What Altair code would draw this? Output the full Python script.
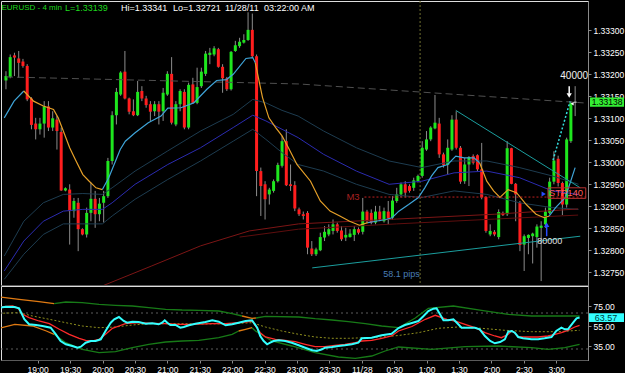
import altair as alt
import numpy as np
import pandas as pd

# ---------------- EURUSD 4-min bars ----------------
bar_open = [1.33186, 1.33194, 1.33243, 1.33236, 1.33229, 1.33219, 1.33145, 1.33088, 1.33075, 1.33088,
            1.33127, 1.33079, 1.33097, 1.33069, 1.32936, 1.32938, 1.32889, 1.32908, 1.32848, 1.32836,
            1.32885, 1.32917, 1.32882, 1.32908, 1.32923, 1.33003, 1.33107, 1.33154, 1.33206, 1.33145,
            1.33116, 1.33107, 1.33162, 1.33145, 1.33132, 1.33116, 1.33132, 1.33116, 1.33154, 1.33201,
            1.33086, 1.33132, 1.33160, 1.33079, 1.33177, 1.33135, 1.33173, 1.33201, 1.33244, 1.33245,
            1.33257, 1.33217, 1.33191, 1.33166, 1.33253, 1.33264, 1.33272, 1.33278, 1.33301, 1.33241,
            1.32980, 1.32950, 1.32927, 1.32935, 1.32957, 1.32992, 1.33048, 1.32950, 1.32948, 1.32893,
            1.32882, 1.32885, 1.32804, 1.32791, 1.32800, 1.32829, 1.32836, 1.32844, 1.32859, 1.32845,
            1.32829, 1.32830, 1.32835, 1.32848, 1.32842, 1.32888, 1.32885, 1.32863, 1.32888, 1.32866,
            1.32888, 1.32874, 1.32912, 1.32927, 1.32950, 1.32946, 1.32942, 1.32957, 1.32969, 1.33029,
            1.33052, 1.33077, 1.33088, 1.33018, 1.32994, 1.33029, 1.33097, 1.33033, 1.32957, 1.32995,
            1.33014, 1.33016, 1.32984, 1.32921, 1.32836, 1.32842, 1.32830, 1.32885, 1.32882, 1.33032,
            1.32951, 1.32908, 1.32813, 1.32828, 1.32832, 1.32830, 1.32851, 1.32859, 1.32885, 1.32956,
            1.33008, 1.32953, 1.32904, 1.33048, 1.33135]
bar_high = [1.33207, 1.33245, 1.33249, 1.33253, 1.33235, 1.33223, 1.33148, 1.33101, 1.33101, 1.33139,
            1.33139, 1.33116, 1.33105, 1.33079, 1.32943, 1.32950, 1.32919, 1.32919, 1.32850, 1.32897,
            1.32954, 1.32935, 1.32919, 1.32935, 1.33010, 1.33116, 1.33169, 1.33207, 1.33253, 1.33147,
            1.33143, 1.33185, 1.33173, 1.33151, 1.33139, 1.33139, 1.33139, 1.33169, 1.33207, 1.33239,
            1.33139, 1.33166, 1.33166, 1.33181, 1.33192, 1.33215, 1.33215, 1.33253, 1.33260, 1.33264,
            1.33260, 1.33223, 1.33194, 1.33253, 1.33276, 1.33283, 1.33291, 1.33341, 1.33338, 1.33245,
            1.32988, 1.32957, 1.32942, 1.32961, 1.32999, 1.33060, 1.33075, 1.32995, 1.32957, 1.32897,
            1.32888, 1.32889, 1.32821, 1.32806, 1.32840, 1.32855, 1.32859, 1.32870, 1.32863, 1.32855,
            1.32851, 1.32848, 1.32855, 1.32852, 1.32919, 1.32892, 1.32893, 1.32901, 1.32901, 1.32897,
            1.32912, 1.32923, 1.32942, 1.32954, 1.32957, 1.32950, 1.32965, 1.32972, 1.33048, 1.33071,
            1.33082, 1.33153, 1.33101, 1.33022, 1.33052, 1.33107, 1.33116, 1.33037, 1.33010, 1.33014,
            1.33018, 1.33018, 1.33044, 1.32923, 1.32859, 1.32846, 1.32893, 1.32888, 1.33048, 1.33033,
            1.32953, 1.32912, 1.32836, 1.32836, 1.32840, 1.32859, 1.32866, 1.32897, 1.32965, 1.33025,
            1.33015, 1.32956, 1.33056, 1.33139, 1.33173]
bar_low = [1.33166, 1.33191, 1.33196, 1.33192, 1.33215, 1.33139, 1.33075, 1.33052, 1.33063, 1.33056,
           1.33071, 1.33071, 1.33029, 1.32935, 1.32934, 1.32813, 1.32874, 1.32798, 1.32834, 1.32829,
           1.32866, 1.32851, 1.32866, 1.32863, 1.32919, 1.32995, 1.33086, 1.33151, 1.33143, 1.33109,
           1.33105, 1.33105, 1.33139, 1.33124, 1.33094, 1.33105, 1.33086, 1.33094, 1.33151, 1.33086,
           1.33082, 1.33116, 1.33075, 1.33075, 1.33133, 1.33132, 1.33169, 1.33196, 1.33223, 1.33241,
           1.33215, 1.33158, 1.33162, 1.33163, 1.33251, 1.33260, 1.33270, 1.33276, 1.33238, 1.32923,
           1.32878, 1.32870, 1.32904, 1.32931, 1.32954, 1.32988, 1.32946, 1.32935, 1.32889, 1.32878,
           1.32870, 1.32791, 1.32787, 1.32787, 1.32798, 1.32821, 1.32832, 1.32836, 1.32840, 1.32821,
           1.32821, 1.32829, 1.32821, 1.32836, 1.32836, 1.32862, 1.32859, 1.32859, 1.32866, 1.32863,
           1.32859, 1.32870, 1.32908, 1.32920, 1.32920, 1.32931, 1.32935, 1.32954, 1.32965, 1.33026,
           1.33048, 1.33075, 1.33010, 1.32988, 1.32973, 1.33026, 1.33029, 1.32951, 1.32951, 1.32946,
           1.32995, 1.32980, 1.32916, 1.32840, 1.32832, 1.32832, 1.32825, 1.32878, 1.32878, 1.32950,
           1.32866, 1.32798, 1.32753, 1.32791, 1.32770, 1.32806, 1.32730, 1.32851, 1.32882, 1.32950,
           1.32945, 1.32880, 1.32897, 1.33044, 1.33105]
bar_close = [1.33196, 1.33239, 1.33238, 1.33226, 1.33219, 1.33143, 1.33085, 1.33075, 1.33088, 1.33127,
             1.33079, 1.33100, 1.33071, 1.32936, 1.32941, 1.32889, 1.32912, 1.32848, 1.32836, 1.32885,
             1.32917, 1.32882, 1.32906, 1.32923, 1.33003, 1.33107, 1.33160, 1.33204, 1.33145, 1.33115,
             1.33107, 1.33160, 1.33145, 1.33130, 1.33115, 1.33132, 1.33115, 1.33158, 1.33201, 1.33090,
             1.33132, 1.33162, 1.33079, 1.33176, 1.33135, 1.33171, 1.33206, 1.33247, 1.33249, 1.33259,
             1.33217, 1.33191, 1.33166, 1.33251, 1.33266, 1.33274, 1.33278, 1.33301, 1.33241, 1.32980,
             1.32946, 1.32916, 1.32938, 1.32957, 1.32994, 1.33048, 1.32948, 1.32946, 1.32895, 1.32882,
             1.32878, 1.32806, 1.32791, 1.32802, 1.32830, 1.32842, 1.32848, 1.32859, 1.32844, 1.32825,
             1.32835, 1.32838, 1.32848, 1.32840, 1.32888, 1.32866, 1.32863, 1.32888, 1.32870, 1.32889,
             1.32873, 1.32913, 1.32927, 1.32950, 1.32931, 1.32935, 1.32959, 1.32969, 1.33033, 1.33052,
             1.33079, 1.33090, 1.33018, 1.32994, 1.33033, 1.33097, 1.33033, 1.32956, 1.32995, 1.33012,
             1.32999, 1.32984, 1.32920, 1.32844, 1.32844, 1.32836, 1.32887, 1.32880, 1.33032, 1.32951,
             1.32927, 1.32812, 1.32832, 1.32835, 1.32838, 1.32854, 1.32856, 1.32888, 1.32956, 1.33004,
             1.32953, 1.32904, 1.33052, 1.33135, 1.33138]

# ---------------- indicator lines, (bar number, value) ----------------
fast_ma = [
    ("#3fa4d8", [(0.6, 1.33101), (2.9, 1.33139), (5.2, 1.33162)]),
    ("#e6a028", [(5.2, 1.33162), (7.5, 1.33139), (9.8, 1.33128), (12.2, 1.33120), (13.3, 1.33101),
                 (14.5, 1.33071), (16, 1.33033), (17.5, 1.33003), (19.1, 1.32972), (20.6, 1.32957),
                 (22.2, 1.32942), (23.7, 1.32938)]),
    ("#3fa4d8", [(23.7, 1.32938), (25.2, 1.32965), (26.8, 1.33003), (27.9, 1.33029), (29.1, 1.33048),
                 (31.4, 1.33067), (34.5, 1.33090), (37.5, 1.33105), (39.1, 1.33123), (42.2, 1.33124),
                 (45.2, 1.33135), (48.3, 1.33166), (50.6, 1.33186), (52.9, 1.33188), (54.5, 1.33200),
                 (57.5, 1.33236), (59.1, 1.33238), (59.7, 1.33226)]),
    ("#e6a028", [(59.7, 1.33226), (61.4, 1.33147), (62.9, 1.33101), (64.5, 1.33079), (66, 1.33060),
                 (67.5, 1.33033), (69.5, 1.32995), (72.7, 1.32957), (75, 1.32912), (77.3, 1.32889),
                 (79.6, 1.32878), (81.9, 1.32866), (84.2, 1.32857), (86.2, 1.32863)]),
    ("#3fa4d8", [(86.2, 1.32863), (88.1, 1.32866), (90.4, 1.32870), (91.9, 1.32874), (93.5, 1.32889),
                 (95.8, 1.32904), (98.1, 1.32920), (99.6, 1.32942), (101.2, 1.32969), (102.7, 1.32988),
                 (105, 1.32995), (106.9, 1.33014), (108.9, 1.33010), (111.2, 1.33010), (112.5, 1.32999)]),
    ("#e6a028", [(112.5, 1.32999), (114.2, 1.32957), (115.8, 1.32935), (117.3, 1.32920), (119.2, 1.32938),
                 (121.2, 1.32931), (123.5, 1.32904), (125.8, 1.32882), (127.7, 1.32874), (128.9, 1.32878)]),
    ("#3fa4d8", [(128.9, 1.32878), (130.4, 1.32897), (132.7, 1.32920), (135, 1.32988)]),
]
band_upper = [(0.6, 1.32787), (5.2, 1.32866), (9.8, 1.32908), (14.5, 1.32927), (19.1, 1.32929),
              (23.7, 1.32927), (26, 1.32942), (31.4, 1.32980), (39.1, 1.33026), (46.8, 1.33071),
              (54.5, 1.33109), (59.1, 1.33143), (62.2, 1.33135), (66, 1.33118), (69.8, 1.33105),
              (75.8, 1.33071), (83.5, 1.33033), (91.2, 1.33003), (98.9, 1.32988), (106.5, 1.33003),
              (114.2, 1.33003), (121.9, 1.32988), (129.6, 1.32969), (135.8, 1.32950)]
band_mid = [(0.6, 1.32753), (5.2, 1.32821), (9.8, 1.32866), (14.5, 1.32889), (19.1, 1.32893),
            (23.7, 1.32893), (26, 1.32908), (31.4, 1.32950), (39.1, 1.32995), (46.8, 1.33033),
            (54.5, 1.33079), (59.1, 1.33107), (62.2, 1.33094), (66, 1.33075), (69.8, 1.33056),
            (75.8, 1.33018), (83.5, 1.32980), (91.2, 1.32950), (98.9, 1.32957), (106.5, 1.32976),
            (114.2, 1.32980), (121.9, 1.32965), (129.6, 1.32935), (135.8, 1.32927)]
band_lower = [(0.6, 1.32734), (5.2, 1.32791), (9.8, 1.32836), (14.5, 1.32860), (23.7, 1.32860),
              (26, 1.32878), (31.4, 1.32916), (39.1, 1.32961), (46.8, 1.33003), (54.5, 1.33048),
              (59.1, 1.33075), (62.2, 1.33052), (66, 1.33022), (69.8, 1.32995), (75.8, 1.32980),
              (83.5, 1.32950), (91.2, 1.32927), (98.9, 1.32920), (106.5, 1.32935), (114.2, 1.32927),
              (121.9, 1.32908), (129.6, 1.32897), (135.8, 1.32893)]
slow_ma_a = [(23.7, 1.32719), (35.2, 1.32764), (46.8, 1.32810), (58.3, 1.32844), (69.9, 1.32860),
             (93, 1.32871), (116.1, 1.32882), (135.7, 1.32894)]
slow_ma_b = [(56, 1.32830), (69.9, 1.32848), (93, 1.32860), (116.1, 1.32871), (135.7, 1.32880)]
dashed_level = [(1, 1.33194), (70, 1.33178), (137, 1.33135)]
trend_lower = [(73.1, 1.32760), (136.2, 1.32832)]
trend_upper = [(106.9, 1.33118), (136.2, 1.32942)]
m3_level = [(85.4, 1.32921), (137.5, 1.32921)]
entry_path = [(129.8, 1.33005), (133.8, 1.33138)]
day_line_bar = [98.5]
price_ticks = [1.32750, 1.32800, 1.32850, 1.32900, 1.32950, 1.33000, 1.33050,
               1.33100, 1.33150, 1.33200, 1.33250, 1.33300]

# ---------------- oscillator panel ----------------
osc_main = [(0.6, 73.3), (2.1, 74.3), (4.1, 74.0), (5.2, 72.7), (6.4, 61.7), (7.5, 56.7), (9.1, 56.0),
            (10.6, 55.0), (12.5, 53.3), (13.7, 46.7), (14.8, 40.0), (16.0, 36.7), (17.5, 35.0),
            (18.7, 33.3), (19.5, 34.3), (20.6, 38.3), (21.8, 40.0), (22.9, 40.0), (24.1, 41.7),
            (25.2, 50.0), (26.4, 58.3), (27.2, 61.7), (28.3, 64.0), (29.4, 60.0), (30.2, 58.3),
            (31.4, 59.3), (32.9, 59.0), (34.5, 57.3), (36.0, 57.7), (37.5, 56.7), (38.3, 58.3),
            (38.9, 60.7), (39.5, 58.3), (40.2, 56.0), (41.4, 56.0), (42.5, 53.3), (43.3, 54.0),
            (44.5, 55.7), (46.0, 57.3), (48.3, 59.0), (49.9, 60.7), (51.4, 59.3), (53.0, 55.7),
            (54.5, 56.7), (56.0, 58.3), (57.6, 60.0), (59.1, 60.7), (60.3, 53.3), (61.0, 45.0),
            (61.8, 40.0), (62.6, 36.7), (63.3, 38.3), (64.1, 40.0), (65.3, 40.7), (66.8, 40.0),
            (68.3, 38.3), (69.9, 35.7), (71.4, 33.3), (73.0, 30.7), (74.1, 30.0), (75.3, 31.7),
            (76.0, 33.3), (77.6, 34.0), (79.1, 35.0), (80.6, 35.7), (82.2, 36.7), (83.7, 38.3),
            (84.5, 42.7), (86.8, 43.3), (89.1, 45.7), (91.4, 47.3), (93.0, 53.0), (94.5, 56.0),
            (96.1, 58.0), (97.6, 60.0), (98.8, 65.0), (99.9, 70.0), (101.1, 72.3), (101.8, 72.7),
            (102.6, 66.7), (103.4, 60.7), (104.5, 60.7), (105.7, 61.7), (106.5, 58.3), (107.6, 53.3),
            (109.2, 53.3), (110.7, 53.3), (111.8, 51.7), (113.0, 45.0), (114.2, 40.0), (115.3, 37.7),
            (116.5, 39.0), (117.6, 41.7), (118.4, 49.3), (119.2, 50.0), (119.9, 48.3), (120.7, 44.0),
            (121.8, 42.7), (123.8, 41.7), (125.3, 41.7), (126.8, 42.7), (128.4, 44.0), (129.5, 50.0),
            (130.7, 53.3), (131.5, 51.7), (132.2, 51.7), (133.4, 58.3), (134.2, 62.7), (134.9, 63.57)]
osc_signal = [(0.6, 74.0), (3.7, 75.0), (4.8, 73.3), (6.0, 66.7), (7.5, 63.3), (9.8, 60.0), (12.2, 57.3),
              (14.5, 51.7), (16.8, 46.7), (19.1, 42.7), (20.6, 40.7), (22.2, 40.0), (23.7, 41.7),
              (25.2, 46.7), (26.8, 52.7), (28.3, 55.0), (29.8, 57.3), (32.9, 58.3), (36.0, 57.7),
              (39.1, 57.3), (42.2, 56.7), (45.2, 56.7), (49.9, 57.3), (53.0, 57.3), (56.0, 58.3),
              (58.3, 59.3), (59.1, 60.0), (59.9, 55.0), (61.0, 48.3), (62.2, 44.0), (64.5, 41.7),
              (66.8, 40.7), (69.1, 39.3), (71.4, 36.7), (73.7, 34.3), (76.0, 34.3), (78.3, 35.7),
              (80.6, 36.7), (83.0, 38.3), (84.5, 40.0), (86.8, 40.7), (89.1, 42.7), (91.4, 45.0),
              (93.0, 50.0), (96.1, 54.5), (99.2, 61.7), (101.5, 65.7), (103.0, 63.3), (104.2, 61.7),
              (105.3, 60.7), (106.5, 59.3), (108.4, 56.7), (110.7, 53.3), (113.0, 48.3), (115.3, 45.0),
              (116.8, 43.3), (118.4, 46.7), (119.2, 50.0), (119.9, 48.3), (120.7, 44.0), (122.2, 44.0),
              (125.3, 44.0), (127.6, 45.0), (129.2, 46.7), (130.7, 48.3), (132.2, 50.7), (133.8, 54.0),
              (134.9, 55.7)]
osc_bands = [
    ("#e07a12", [(0.6, 84.0), (5.2, 81.7), (9.8, 79.3), (13.3, 77.3)]),
    ("#177a17", [(13.3, 77.3), (16, 79.0), (19.8, 78.3), (23.7, 76.7), (27.5, 75.7), (31.4, 75.0),
                 (35.2, 73.3), (39.1, 71.7), (42.9, 71.0), (46.8, 70.7), (51.4, 70.0), (54.5, 67.3),
                 (56.8, 65.0)]),
    ("#e07a12", [(56.8, 65.0), (59.1, 62.7), (60, 63.0)]),
    ("#177a17", [(60, 63.0), (62.2, 64.7), (69.9, 64.0), (73.7, 62.3), (77.6, 61.0), (81.4, 59.3),
                 (85.3, 57.3), (89.1, 55.0), (93, 53.3), (96.8, 62.7), (99.9, 72.7), (105.7, 75.0),
                 (112.2, 70.7), (118.4, 66.7), (123.8, 65.0), (134.9, 65.0)]),
    ("#e07a12", [(0.6, 52.7), (4.2, 56.7), (8.3, 55.0), (11.5, 50.0), (13.3, 46.7)]),
    ("#177a17", [(13.3, 46.7), (16, 38.3), (19.8, 31.7), (23.7, 28.3), (27.5, 29.3), (31.4, 33.3),
                 (35.2, 36.7), (39.1, 39.0), (42.9, 40.0), (46.8, 40.7), (51.4, 43.3), (54.5, 46.7),
                 (56, 50.0)]),
    ("#e07a12", [(56, 50.0), (57.6, 51.7), (59.1, 53.3)]),
    ("#177a17", [(59.1, 53.3), (59.9, 50.0), (63.7, 40.0), (68.3, 35.0), (73.7, 28.3), (79.1, 24.0),
                 (83, 22.7), (86.8, 25.0), (89.9, 30.0), (93, 34.0), (100.7, 31.7), (108.4, 34.3),
                 (116.1, 35.0), (123.8, 33.3), (127.6, 31.7), (131.5, 33.3), (134.9, 36.7)]),
]
osc_mid = [(0.6, 67.7), (5.2, 68.3), (8.3, 65.0), (12.2, 61.7), (16.0, 58.3), (19.8, 55.0), (23.7, 53.3),
           (27.5, 54.0), (31.4, 56.0), (35.2, 57.3), (39.1, 57.3), (42.9, 57.3), (46.8, 57.0),
           (54.5, 57.3), (59.1, 58.3), (62.2, 54.0), (66.0, 50.0), (69.9, 46.7), (73.7, 44.0),
           (77.6, 42.7), (81.4, 42.7), (85.3, 43.3), (89.1, 44.0), (93.0, 45.5), (97.6, 48.3),
           (102.2, 52.7), (106.8, 54.0), (112.2, 52.7), (117.6, 50.7), (123.8, 49.3), (129.9, 49.3),
           (134.9, 50.7)]
osc_levels = [68, 32]
osc_ticks = [35, 55, 75]

# ---------------- helpers ----------------
T0 = pd.Timestamp("2011-11-27 18:26:00")  # middle of the first 4-minute bar


def ts(bars):
    b = np.asarray(bars, dtype=float)
    t = T0 + pd.to_timedelta((b - 1.0) * 4.0, unit="min")
    return list(t.strftime("%Y-%m-%dT%H:%M:%S"))


def pts_df(points, col="#ffffff", g=0):
    return pd.DataFrame({"t": ts([p[0] for p in points]), "v": [p[1] for p in points],
                         "col": col, "g": g})


def segs_df(segs):
    return pd.concat([pts_df(p, c, i) for i, (c, p) in enumerate(segs)], ignore_index=True)


W = 587
PX_PER_MIN = 1.0803
x_start = pd.Timestamp("2011-11-27 18:26:02")
x_end = x_start + pd.Timedelta(minutes=W / PX_PER_MIN)


def dt(t):
    return alt.DateTime(year=t.year, month=t.month, date=t.day, hours=t.hour,
                        minutes=t.minute, seconds=t.second)


xscale = alt.Scale(domain=[dt(x_start), dt(x_end)])
tick_times = [dt(pd.Timestamp("2011-11-27 19:00") + pd.Timedelta(minutes=30 * i)) for i in range(17)]

AX = "#8a8a8a"
FONT = "Liberation Sans"

top_xaxis = alt.Axis(labels=False, ticks=False, domain=True, domainColor="#5a5a5a", title=None,
                     grid=False, minExtent=0, maxExtent=0)
bot_xaxis = alt.Axis(values=tick_times, labelExpr="hours(datum.value) == 0 && minutes(datum.value) == 0 ? '11/28' : timeFormat(datum.value, '%-H:%M')",
                     labelColor="#ffffff", labelFontSize=8.5, tickColor=AX, tickSize=3, labelPadding=2,
                     domainColor="#5a5a5a", title=None, grid=False, labelOverlap=False, labelFlush=False)

yscale = alt.Scale(domain=[1.327211, 1.333666], nice=False, zero=False)
yaxis = alt.Axis(orient="right", values=price_ticks, format=".5f", labelColor="#ffffff",
                 labelFontSize=8.5, tickColor=AX, tickSize=3, domainColor=AX, labelPadding=2,
                 title=None, grid=False, minExtent=36, maxExtent=36, labelOverlap=False)

lscale = alt.Scale(domain=[21, 95], nice=False, zero=False)
laxis = alt.Axis(orient="right", values=osc_ticks, format=".2f", labelColor="#ffffff",
                 labelFontSize=8.5, tickColor=AX, tickSize=3, domainColor=AX, labelPadding=2,
                 title=None, grid=False, minExtent=36, maxExtent=36, labelOverlap=False)


def XT(field="t"):
    return alt.X(field, type="temporal", scale=xscale, axis=top_xaxis)


def XB(field="t"):
    return alt.X(field, type="temporal", scale=xscale, axis=bot_xaxis)


def YT(field="v"):
    return alt.Y(field, type="quantitative", scale=yscale, axis=yaxis)


def YB(field="v"):
    return alt.Y(field, type="quantitative", scale=lscale, axis=laxis)


# ---------------- candles ----------------
cdf = pd.DataFrame({"t": ts(np.arange(1, len(bar_open) + 1)), "o": bar_open, "h": bar_high,
                    "l": bar_low, "c": bar_close})
cdf["top"] = cdf[["o", "c"]].max(axis=1)
cdf["bot"] = cdf[["o", "c"]].min(axis=1)
cdf["col"] = np.where(cdf["c"] >= cdf["o"], "#1ee61e", "#ff1e1e")
cdf.loc[cdf.index[-1], "col"] = "#b4b4b4"

wicks = alt.Chart(cdf).mark_rule(color="#8c8c8c", strokeWidth=1, clip=True).encode(
    x=XT(), y=YT("l"), y2="h")
bodies = alt.Chart(cdf).mark_bar(size=3, clip=True).encode(
    x=XT(), y=YT("bot"), y2="top", color=alt.Color("col:N", scale=None))

# ---------------- overlays ----------------
day_line = alt.Chart(pd.DataFrame({"t": ts(day_line_bar)})).mark_rule(
    color="#707030", strokeDash=[2, 2], strokeWidth=1).encode(x=XT())

bands = alt.Chart(pd.concat([pts_df(band_upper, "#1d3c50", 0), pts_df(band_mid, "#2b2bb0", 1),
                             pts_df(band_lower, "#1d3c50", 2)])).mark_line(strokeWidth=1, clip=True).encode(
    x=XT(), y=YT(), detail="g:N", color=alt.Color("col:N", scale=None))
slow = alt.Chart(pd.concat([pts_df(slow_ma_a, "#7c1515", 0), pts_df(slow_ma_b, "#5e0e0e", 1)])).mark_line(
    strokeWidth=1, clip=True).encode(x=XT(), y=YT(), detail="g:N", color=alt.Color("col:N", scale=None))
dashed = alt.Chart(pts_df(dashed_level)).mark_line(color="#505050", strokeDash=[7, 4], strokeWidth=1,
                                                    clip=True).encode(x=XT(), y=YT())
fast = alt.Chart(segs_df(fast_ma)).mark_line(strokeWidth=1.2, clip=True).encode(
    x=XT(), y=YT(), detail="g:N", color=alt.Color("col:N", scale=None))
trends = alt.Chart(pd.concat([pts_df(trend_lower, g=0), pts_df(trend_upper, g=1)])).mark_line(
    color="#1b9e9e", strokeWidth=1, clip=True).encode(x=XT(), y=YT(), detail="g:N")
m3 = alt.Chart(pts_df(m3_level)).mark_line(color="#c02020", strokeDash=[2, 2], strokeWidth=1,
                                           clip=True).encode(x=XT(), y=YT())
entry = alt.Chart(pts_df(entry_path)).mark_line(color="#33dddd", strokeDash=[2, 2], strokeWidth=1.5,
                                                clip=True).encode(x=XT(), y=YT())

stp_box = alt.Chart(pd.DataFrame({"t": ts([128.6]), "t2": ts([137.5]), "v": [1.32942], "v2": [1.32918]})
                    ).mark_rect(fill="transparent", stroke="#b83030", strokeWidth=1, clip=True).encode(
    x=XT(), x2="t2:T", y=YT(), y2="v2")


def label(bar, val, text, color, size=9, align="center", clip=True):
    d = pd.DataFrame({"t": ts([bar]), "v": [val], "txt": [text]})
    return alt.Chart(d).mark_text(color=color, fontSize=size, align=align, baseline="middle",
                                  clip=clip).encode(x=XT(), y=YT(), text="txt:N")


texts = [
    label(82.7, 1.32921, "M3", "#a82020", 9.5),
    label(128.8, 1.32930, "STP140", "#ff5a5a", 9.5, "left"),
    label(94.1, 1.32747, "58.1 pips", "#4a7fb8", 9),
    label(129.0, 1.32820, "80000", "#e0e0e0", 9),
    label(131.5, 1.33195, "40000", "#f0f0f0", 10, "left"),
]


def shaft(bar, v1, v2, color):
    d = pd.DataFrame({"t": ts([bar]), "v": [v1], "v2": [v2]})
    return alt.Chart(d).mark_rule(color=color, strokeWidth=1.5).encode(x=XT(), y=YT(), y2="v2")


def head(bar, val, shape, color, size=28):
    d = pd.DataFrame({"t": ts([bar]), "v": [val]})
    return alt.Chart(d).mark_point(shape=shape, filled=True, size=size, color=color, opacity=1).encode(
        x=XT(), y=YT())


arrows = [
    shaft(128.3, 1.32832, 1.32856, "#2a4cff"), head(128.3, 1.32858, "triangle-up", "#2a4cff"),
    shaft(133.6, 1.33173, 1.33156, "#ffffff"), head(133.6, 1.33152, "triangle-down", "#ffffff"),
    head(127.6, 1.32928, "triangle-right", "#2a4cff", 24),
    head(134.3, 1.33133, "triangle-left", "#ffffff", 12),
]

one = pd.DataFrame({"k": [0]})
header_parts = [("EURUSD - 4 min", 0.5, "#1ed81e", 8), ("L=1.33139", 64, "#1ed81e", 9),
                ("Hi=1.33341", 120, "#ffffff", 9), ("Lo=1.32721", 172, "#ffffff", 9),
                ("11/28/11", 224, "#ffffff", 9), ("03:22:00 AM", 263, "#ffffff", 9)]
header = [alt.Chart(one).mark_text(text=s, color=c, fontSize=fs, align="left", baseline="middle").encode(
    x=alt.value(x), y=alt.value(6.5)) for s, x, c, fs in header_parts]

last_px = pd.DataFrame({"v": [1.33147], "v2": [1.33126], "m": [1.33137], "txt": ["1.33138"]})
px_box = alt.Chart(last_px).mark_rect(color="#33ee33").encode(
    x=alt.value(589), x2=alt.value(623), y=YT("v"), y2="v2")
px_txt = alt.Chart(last_px).mark_text(color="#000000", fontSize=8.5, align="center", baseline="middle").encode(
    x=alt.value(606), y=YT("m"), text="txt:N")

top = alt.layer(day_line, wicks, bodies, bands, slow, dashed, fast, trends, m3, entry, stp_box,
                *texts, *arrows, *header, px_box, px_txt).properties(width=W, height=284)

# ---------------- oscillator panel ----------------
lv = alt.Chart(pd.DataFrame({"v": osc_levels})).mark_rule(color="#5c5c5c", strokeDash=[2, 3],
                                                          strokeWidth=1).encode(y=YB())
omid = alt.Chart(pts_df(osc_mid)).mark_line(color="#8f8f1e", strokeDash=[2, 2], strokeWidth=1,
                                            clip=True).encode(x=XB(), y=YB())
obands = alt.Chart(segs_df(osc_bands)).mark_line(strokeWidth=1.3, clip=True).encode(
    x=XB(), y=YB(), detail="g:N", color=alt.Color("col:N", scale=None))
osig = alt.Chart(pts_df(osc_signal)).mark_line(color="#ff2a2a", strokeWidth=1.3, clip=True).encode(
    x=XB(), y=YB())
omain = alt.Chart(pts_df(osc_main)).mark_line(color="#33ffff", strokeWidth=2, clip=True).encode(
    x=XB(), y=YB())
last_osc = pd.DataFrame({"v": [67.7], "v2": [58.9], "m": [63.3], "txt": ["63.57"]})
o_box = alt.Chart(last_osc).mark_rect(color="#33ffff").encode(
    x=alt.value(588), x2=alt.value(623), y=YB("v"), y2="v2")
o_txt = alt.Chart(last_osc).mark_text(color="#003a3a", fontSize=9, align="center", baseline="middle").encode(
    x=alt.value(605), y=YB("m"), text="txt:N")

bottom = alt.layer(lv, omid, obands, osig, omain, o_box, o_txt).properties(width=W, height=74)

chart = alt.vconcat(top, bottom, spacing=-3).properties(padding=0, background="#000000").configure_view(
    stroke=None).configure(font=FONT)

chart.save("out.html", embed_options={"renderer": "svg", "actions": False})
